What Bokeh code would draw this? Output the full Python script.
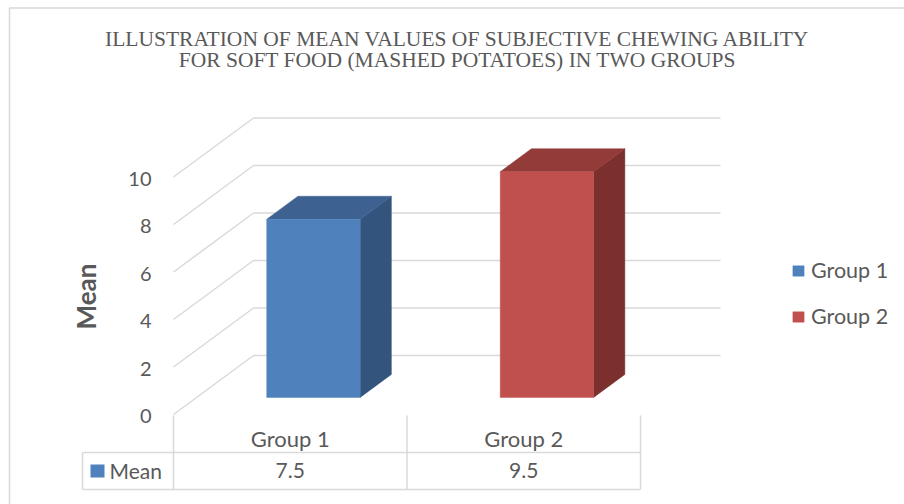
import math
from bokeh.plotting import figure
from bokeh.models import Range1d, Legend, LegendItem, ColumnDataSource
from bokeh.core.properties import value
from bokeh.embed import file_html
from bokeh.resources import INLINE

# ---- data -------------------------------------------------------------
groups = ["Group 1", "Group 2"]
means = [7.5, 9.5]
series_name = "Mean"
y_ticks = [0, 2, 4, 6, 8, 10]
title_lines = [
    "ILLUSTRATION OF MEAN VALUES OF SUBJECTIVE CHEWING ABILITY",
    "FOR SOFT FOOD (MASHED POTATOES) IN TWO GROUPS",
]

# ---- styling ----------------------------------------------------------
front_colors = ["#4f81bd", "#c0504d"]
top_colors = ["#3d6291", "#933b39"]
side_colors = ["#33547c", "#7b302e"]
GRID = "#d9d9d9"
TEXT = "#595959"
FONT = "Lato"

W, H = 904, 504
X0 = 173.0    # canvas x of the front-left floor corner
Y0 = 414.0    # canvas y of value 0 on the front plane
CW = 233.5    # pixels per category slot
VS = 23.75    # pixels per value unit


def dx(px):
    return (px - X0) / CW


def dy(py):
    return (Y0 - py) / VS


# oblique depth vector (full depth of the plot box)
DEPTH_X = 80.0 / CW
DEPTH_Y = 59.0 / VS
# bars sit in the middle of the depth, 40% of a slot wide
BAR_Z0, BAR_Z1 = 0.29, 0.68
BAR_HW = 0.2

p = figure(width=W, height=H, x_range=Range1d(dx(0), dx(W)),
           y_range=Range1d(dy(H), dy(0)), x_axis_type=None, y_axis_type=None,
           toolbar_location=None, output_backend="svg", min_border=0)
p.outline_line_color = None
p.grid.visible = False
p.background_fill_color = "white"
p.border_fill_color = "white"

# chart area border
p.line([dx(9), dx(9), dx(W + 5)], [dy(H + 5), dy(7.5), dy(7.5)],
       line_color=GRID, line_width=1.5)

# back wall gridlines and the diagonal floor/side lines
n = len(groups)
gx, gy = [], []
for t in y_ticks:
    gx.append([0, DEPTH_X, n + DEPTH_X])
    gy.append([t, t + DEPTH_Y, t + DEPTH_Y])
p.multi_line(gx, gy, line_color=GRID, line_width=1.5)

# 3-D bars: side, top, then front face
dzx = (BAR_Z1 - BAR_Z0) * DEPTH_X
dzy = (BAR_Z1 - BAR_Z0) * DEPTH_Y
lefts, rights, tops, bottoms = [], [], [], []
side_xs, side_ys, top_xs, top_ys = [], [], [], []
for i, v in enumerate(means):
    L = i + 0.5 - BAR_HW + BAR_Z0 * DEPTH_X
    R = i + 0.5 + BAR_HW + BAR_Z0 * DEPTH_X
    B = BAR_Z0 * DEPTH_Y
    T = v + BAR_Z0 * DEPTH_Y
    lefts.append(L); rights.append(R); tops.append(T); bottoms.append(B)
    side_xs.append([R, R + dzx, R + dzx, R])
    side_ys.append([B, B + dzy, T + dzy, T])
    top_xs.append([L, R, R + dzx, L + dzx])
    top_ys.append([T, T, T + dzy, T + dzy])

p.patches(side_xs, side_ys, fill_color=side_colors, line_color=side_colors, line_width=0.5)
p.patches(top_xs, top_ys, fill_color=top_colors, line_color=top_colors, line_width=0.5)
front_src = ColumnDataSource(dict(left=lefts, right=rights, top=tops,
                                  bottom=bottoms, color=front_colors, name=groups))
r_front = p.quad(left="left", right="right", top="top", bottom="bottom",
                 fill_color="color", line_color="color", line_width=0.5,
                 source=front_src)

# value axis labels on the front plane
p.text(x=[dx(151)] * len(y_ticks), y=[t - 1.5 / VS for t in y_ticks],
       text=[str(t) for t in y_ticks], text_align="right",
       text_baseline="alphabetic", text_color=TEXT,
       text_font=value(FONT), text_font_size=value("20px"))

# value axis title
p.text(x=[dx(85)], y=[dy(296)], text=[series_name], angle=math.pi / 2,
       text_align="center", text_baseline="middle", text_color=TEXT,
       text_font=value(FONT), text_font_style="bold",
       text_font_size=value("26px"))

# chart title
p.text(x=[dx(457)] * 2, y=[dy(38), dy(59.5)], text=title_lines,
       text_align="center", text_baseline="alphabetic", text_color=TEXT,
       text_font=value("Liberation Serif"), text_font_size=value("21.5px"))

# data table under the category axis
tx = [[k, k] for k in range(n + 1)]
ty = [[dy(415), dy(489)] for _ in range(n + 1)]
tx += [[dx(82), dx(82)], [dx(82), n], [dx(82), n]]
ty += [[dy(452), dy(489)], [dy(452), dy(452)], [dy(489), dy(489)]]
p.multi_line(tx, ty, line_color=GRID, line_width=1.5)

p.text(x=[i + 0.5 for i in range(n)], y=[dy(437.5)] * n, text=groups,
       text_align="center", text_baseline="alphabetic", text_color=TEXT,
       text_font=value(FONT), text_font_size=value("22px"))
p.text(x=[i + 0.5 for i in range(n)], y=[dy(469.5)] * n,
       text=[f"{v:g}" for v in means], text_align="center",
       text_baseline="alphabetic", text_color=TEXT,
       text_font=value(FONT), text_font_size=value("21px"))
p.rect(x=[dx(97)], y=[dy(470.5)], width=14 / CW, height=13 / VS,
       fill_color=front_colors[0], line_color=None)
p.text(x=[dx(109)], y=[dy(469.5)], text=[series_name], text_align="left",
       text_baseline="alphabetic", text_color=TEXT,
       text_font=value(FONT), text_font_size=value("21px"))

# legend
legend = Legend(
    items=[LegendItem(label=g, renderers=[r_front], index=i)
           for i, g in enumerate(groups)],
    location=(791, 175), orientation="vertical",
    glyph_width=14, glyph_height=13, label_height=25, label_standoff=6,
    spacing=20, padding=0, margin=0,
    border_line_color=None, background_fill_alpha=0,
    label_text_font=FONT, label_text_font_size="21.5px", label_text_color=TEXT,
)
p.add_layout(legend)

open("out.html", "w").write(file_html(p, INLINE))
